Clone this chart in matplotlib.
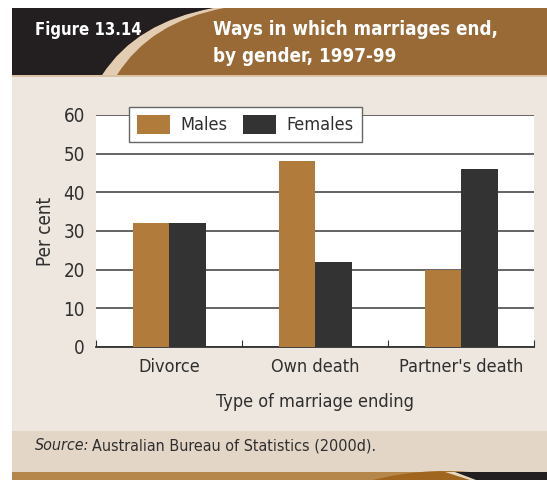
import matplotlib
matplotlib.use('Agg')
import matplotlib.pyplot as plt
import numpy as np
from matplotlib.patches import Rectangle, PathPatch
from matplotlib.path import Path

plt.rcParams['font.family'] = ['DejaVu Sans']
plt.rcParams['font.stretch'] = 'condensed'

categories = ['Divorce', 'Own death', "Partner's death"]
males = [32, 48, 20]
females = [32, 22, 46]
yticks = [0, 10, 20, 30, 40, 50, 60]

c_male = '#B07B3B'
c_female = '#333333'
c_text = '#2f2f2f'

fig = plt.figure(figsize=(5.47, 4.80), dpi=100)

# background decorations, pixel coords from top-left
bg = fig.add_axes([0, 0, 1, 1])
bg.set_xlim(0, 547)
bg.set_ylim(480, 0)
bg.axis('off')
bg.add_patch(Rectangle((12, 75), 535, 356, color='#EEE7DF', lw=0))
bg.add_patch(Rectangle((12, 431), 535, 41, color='#E3D6C7', lw=0))
bg.add_patch(Rectangle((12, 472), 535, 8, color='#B5874B', lw=0))
bg.add_patch(Rectangle((12, 75), 535, 2, color='#D9C2A5', lw=0))

# header band with swoosh
bg.add_patch(Rectangle((12, 8), 535, 67, color='#996A36', lw=0))
swoosh = Path([(102, 75), (136, 22), (213, 8), (224, 8), (150, 22), (117, 75), (102, 75)],
              [Path.MOVETO, Path.CURVE3, Path.CURVE3, Path.LINETO, Path.CURVE3, Path.CURVE3,
               Path.CLOSEPOLY])
bg.add_patch(PathPatch(swoosh, color='#E2CDB2', lw=0))
dark = Path([(12, 8), (213, 8), (136, 22), (102, 75), (12, 75), (12, 8)],
            [Path.MOVETO, Path.LINETO, Path.CURVE3, Path.CURVE3, Path.LINETO, Path.CLOSEPOLY])
bg.add_patch(PathPatch(dark, color='#231F20', lw=0))

# bottom band swoosh
bb = Path([(373, 480), (420, 468), (470, 472), (547, 472), (547, 480), (373, 480)],
          [Path.MOVETO, Path.CURVE3, Path.CURVE3, Path.LINETO, Path.LINETO, Path.CLOSEPOLY])
bg.add_patch(PathPatch(bb, color='#A0651E', lw=0))
bb2 = Path([(445, 472), (547, 472), (547, 480), (470, 480), (445, 472)],
           [Path.MOVETO, Path.LINETO, Path.LINETO, Path.LINETO, Path.CLOSEPOLY])
bg.add_patch(PathPatch(bb2, color='#E8D8C0', lw=0))
bb3 = Path([(455, 472), (547, 472), (547, 480), (476, 480), (455, 472)],
           [Path.MOVETO, Path.LINETO, Path.LINETO, Path.LINETO, Path.CLOSEPOLY])
bg.add_patch(PathPatch(bb3, color='#231F20', lw=0))

bg.text(35, 35, 'Figure 13.14', color='white', fontsize=12, fontweight='bold',
        va='baseline', ha='left')
bg.text(213, 35, 'Ways in which marriages end,', color='white',
        fontsize=13.5, fontweight='bold', va='baseline', ha='left')
bg.text(213, 62, 'by gender, 1997-99', color='white',
        fontsize=13.5, fontweight='bold', va='baseline', ha='left')

ax = fig.add_axes([96 / 547, 1 - 347 / 480, 438 / 547, 232 / 480])
x = np.arange(len(categories))
w = 0.25
ax.bar(x - w / 2, males, w, color=c_male, label='Males', zorder=3)
ax.bar(x + w / 2, females, w, color=c_female, label='Females', zorder=3)

ax.set_xlim(-0.5, 2.5)
ax.set_ylim(0, 60)
ax.set_yticks(yticks)
ax.yaxis.grid(True, color='#3a3a3a', lw=1.1, zorder=1)
ax.tick_params(axis='y', length=0, labelsize=13.5, labelcolor=c_text, pad=8)
ax.set_xticks([-0.5, 0.5, 1.5, 2.5])
ax.set_xticklabels([])
ax.tick_params(axis='x', which='major', direction='in', length=5, color='#333333')
ax.set_xticks(x, minor=True)
ax.set_xticklabels(categories, minor=True)
ax.tick_params(axis='x', which='minor', length=0, labelsize=13, labelcolor=c_text, pad=8)
for s in ['top', 'right', 'left']:
    ax.spines[s].set_visible(False)
ax.spines['bottom'].set_color('#333333')
ax.spines['bottom'].set_linewidth(1.3)
ax.set_ylabel('Per cent', fontsize=13.5, color=c_text, labelpad=6)
ax.set_xlabel('Type of marriage ending', fontsize=13, color=c_text, labelpad=12)

leg = ax.legend(loc='center', bbox_to_anchor=((129 - 96) / 438, (347 - 147) / 232, 233 / 438, 45 / 232),
                mode='expand', ncol=2, fontsize=13, frameon=True, fancybox=False,
                handlelength=1.8, handleheight=1.25, handletextpad=0.6, columnspacing=0.5,
                borderaxespad=0, borderpad=0.45)
leg.get_frame().set_edgecolor('#666666')
leg.get_frame().set_linewidth(1.0)
leg.get_frame().set_alpha(1)
leg.set_zorder(5)
for t in leg.get_texts():
    t.set_color(c_text)

src1 = fig.text(35 / 547, 1 - 446 / 480, 'Source:', style='italic', color=c_text, fontsize=11.5,
                va='center', ha='left')
fig.canvas.draw()
ext = src1.get_window_extent()
fig.text((ext.x1 + 3) / 547, 1 - 446 / 480, 'Australian Bureau of Statistics (2000d).',
         color=c_text, fontsize=11.5, va='center', ha='left')

fig.savefig('out.png', dpi=100)
